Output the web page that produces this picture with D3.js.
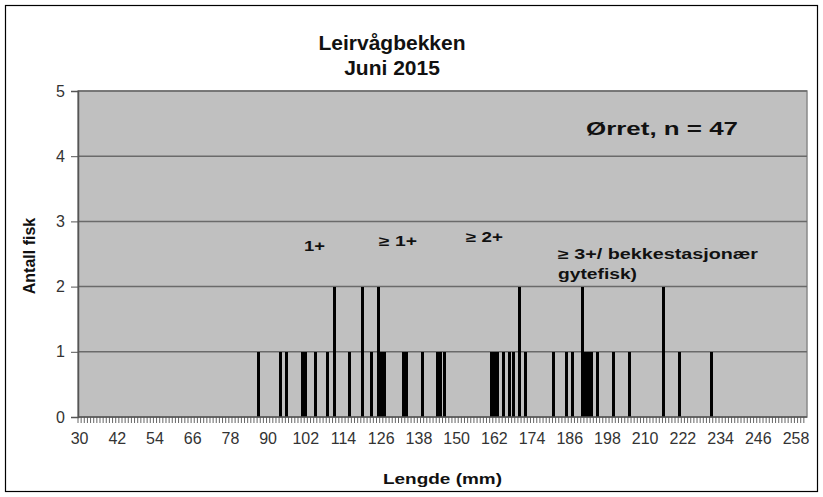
<!DOCTYPE html>
<html>
<head>
<meta charset="utf-8">
<script src="https://cdn.jsdelivr.net/npm/d3@7"></script>
<style>
	body { margin: 0; background: #fff; }
	text { font-family: "Liberation Sans", Arial, sans-serif; }
</style>
</head>
<body>
<svg id="chart" width="823" height="497"></svg>
<script>
// fish lengths (mm) and how many fish were caught at each length
var lengths = [87, 94, 96, 101, 102, 105, 109, 111, 116, 120, 123, 125, 126, 127, 133, 134, 139,
	144, 145, 146, 161, 162, 163, 165, 167, 168, 170, 172, 181, 185, 187, 190, 191, 192, 193,
	195, 200, 205, 216, 221, 231];
var counts = [1, 1, 1, 1, 1, 1, 1, 2, 1, 2, 1, 2, 1, 1, 1, 1, 1,
	1, 1, 1, 1, 1, 1, 1, 1, 1, 2, 1, 1, 1, 1, 2, 1, 1, 1,
	1, 1, 1, 2, 1, 1];
// category axis runs 30 .. 261 mm, labelled every 12 mm
var firstLength = 30, lastLength = 261;
var tickLabels = [30, 42, 54, 66, 78, 90, 102, 114, 126, 138, 150, 162, 174, 186, 198, 210, 222, 234, 246, 258];
var yTicks = [0, 1, 2, 3, 4, 5];
var ageLabels = ["1+", "\u2265 1+", "\u2265 2+", "\u2265 3+/ bekkestasjon\u00e6r", "gytefisk)"];

var svg = d3.select("#chart");
var margin = { left: 78, right: 16, top: 91, bottom: 80 };
var width = 823, height = 497;

// outer frame
svg.append("rect")
	.attr("x", 5.5).attr("y", 5.5)
	.attr("width", 812).attr("height", 486)
	.attr("fill", "#fff")
	.attr("stroke", "#000")
	.attr("stroke-width", 1.2);

var categories = d3.range(firstLength, lastLength + 1);
var x = d3.scaleBand()
	.domain(categories)
	.range([margin.left, width - margin.right])
	.paddingInner(0);
var y = d3.scaleLinear()
	.domain([0, 5])
	.range([417, margin.top]);

// plot area
svg.append("rect")
	.attr("x", margin.left).attr("y", y(5))
	.attr("width", width - margin.right - margin.left)
	.attr("height", y(0) - y(5))
	.attr("fill", "#c0c0c0")
	.attr("stroke", "#8a8a8a")
	.attr("stroke-width", 1.5);

// gridlines
svg.append("g").selectAll("line")
	.data(yTicks.filter(function(d) { return d > 0; }))
	.enter().append("line")
	.attr("x1", margin.left).attr("x2", width - margin.right)
	.attr("y1", function(d) { return y(d); })
	.attr("y2", function(d) { return y(d); })
	.attr("stroke", "#6a6a6a")
	.attr("stroke-width", 1.5);

// bars, crisp so that neighbouring lengths merge into solid blocks
svg.append("g")
	.attr("shape-rendering", "crispEdges")
	.selectAll("rect")
	.data(lengths)
	.enter().append("rect")
	.attr("x", function(d) { return Math.round(x(d)); })
	.attr("width", 3)
	.attr("y", function(d, i) { return y(counts[i]); })
	.attr("height", function(d, i) { return y(0) - y(counts[i]); })
	.attr("fill", "#000");

// y axis
var yAxis = svg.append("g")
	.attr("transform", "translate(" + margin.left + ",0)")
	.call(d3.axisLeft(y).tickValues(yTicks).tickSize(7).tickPadding(6).tickFormat(d3.format("d")));
yAxis.select(".domain").attr("stroke", "#555").attr("stroke-width", 1.5);
yAxis.selectAll(".tick line").attr("stroke", "#555");
yAxis.selectAll("text").attr("font-size", 16).attr("fill", "#333");

// x axis: a tick at every category boundary, labels every 12 mm
var xAxis = svg.append("g").attr("transform", "translate(0," + y(0) + ")");
xAxis.append("line")
	.attr("x1", margin.left).attr("x2", width - margin.right)
	.attr("stroke", "#555").attr("stroke-width", 1.5);
xAxis.selectAll("line.minor")
	.data(categories)
	.enter().append("line")
	.attr("class", "minor")
	.attr("x1", function(d) { return x(d); })
	.attr("x2", function(d) { return x(d); })
	.attr("y1", 0).attr("y2", 6)
	.attr("stroke", "#555").attr("stroke-width", 0.9);
xAxis.selectAll("text")
	.data(tickLabels)
	.enter().append("text")
	.attr("x", function(d) { return x(d) + x.bandwidth() / 2; })
	.attr("y", 27)
	.attr("text-anchor", "middle")
	.attr("font-size", 16)
	.attr("fill", "#333")
	.text(function(d) { return d; });

// the original picture is stretched sideways, so stretch text to its measured width
function label(txt, px, py, size, w, anchor) {
	var t = svg.append("text")
		.attr("x", px).attr("y", py)
		.attr("font-size", size).attr("font-weight", "bold")
		.attr("fill", "#111")
		.attr("text-anchor", anchor || "start")
		.text(txt);
	if (w) t.attr("textLength", w).attr("lengthAdjust", "spacingAndGlyphs");
	return t;
}

label("Leirvågbekken", 392, 50, 21, null, "middle");
label("Juni 2015", 392, 75, 21, null, "middle");
label("Lengde (mm)", 383, 484, 15, 119);
label("Ørret, n = 47", 586, 135, 18, 152);

svg.append("text")
	.attr("transform", "translate(35,256) rotate(-90)")
	.attr("text-anchor", "middle")
	.attr("font-size", 16).attr("font-weight", "bold")
	.attr("fill", "#111")
	.text("Antall fisk");

// age group notes
var agePos = [[304, 251, 21], [379, 246, 38], [466, 242, 37], [558, 259, 200], [558, 279, 79]];
ageLabels.forEach(function(txt, i) {
	label(txt, agePos[i][0], agePos[i][1], 14, agePos[i][2]);
});
</script>
</body>
</html>
